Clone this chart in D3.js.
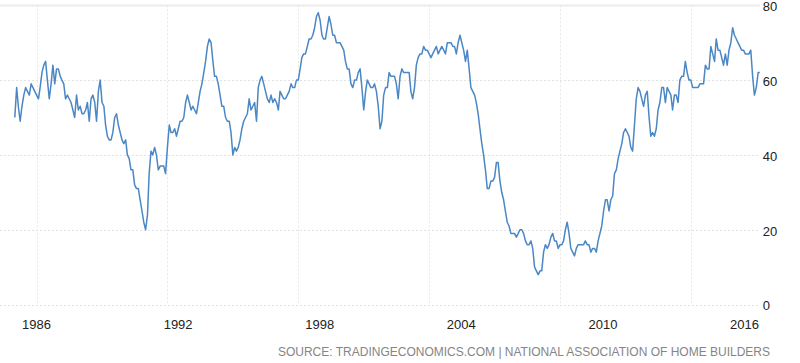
<!DOCTYPE html>
<html>
<head>
<meta charset="utf-8">
<script src="https://cdn.jsdelivr.net/npm/d3@7"></script>
<style>
  body { margin: 0; background: #fff; }
  svg { display: block; font-family: "Liberation Sans", Arial, sans-serif; }
</style>
</head>
<body>
<div class="chart"></div>
<script>
// NAHB housing market index, monthly, Jan 1985 .. Mar 2019
const startYear = 1985;
const hmi = [
  50, 58, 53, 49, 53, 56, 58, 57, 56, 59, 58, 57, // 1985
  56, 55, 58, 62, 64, 65, 60, 55, 59, 64, 59, 63, // 1986
  63, 61, 60, 59, 55, 56, 55, 54, 52, 50, 56, 52, // 1987
  53, 51, 51, 52, 54, 49, 55, 56, 54, 49, 57, 60, // 1988
  54, 53, 48, 45, 44, 44, 46, 50, 51, 48, 46, 44, // 1989
  43, 44, 40, 39, 36, 36, 32, 31, 31, 28, 25, 22, // 1990
  20, 24, 35, 41, 40, 42, 40, 36, 37, 37, 37, 35, // 1991
  42, 48, 46, 46, 47, 45, 47, 49, 49, 50, 54, 56, // 1992
  54, 52, 53, 52, 51, 54, 57, 59, 62, 65, 69, 71, // 1993
  70, 65, 61, 61, 59, 56, 53, 53, 50, 49, 49, 46, // 1994
  40, 42, 41, 42, 44, 47, 49, 50, 51, 55, 52, 53, // 1995
  54, 49, 58, 60, 61, 59, 57, 55, 54, 56, 54, 55, // 1996
  54, 52, 57, 56, 55, 55, 56, 57, 59, 58, 58, 60, // 1997
  60, 63, 66, 67, 67, 69, 71, 71, 72, 74, 77, 78, // 1998
  76, 72, 71, 71, 74, 77, 75, 72, 72, 70, 70, 70, // 1999
  69, 68, 65, 63, 63, 59, 58, 60, 60, 62, 63, 58, // 2000
  52, 57, 60, 59, 58, 58, 59, 57, 53, 47, 49, 56, // 2001
  58, 58, 62, 61, 61, 61, 59, 55, 61, 63, 62, 62, // 2002
  62, 62, 57, 55, 58, 64, 66, 67, 67, 69, 68, 68, // 2003
  67, 66, 67, 68, 69, 67, 68, 69, 68, 67, 70, 70, // 2004
  70, 69, 69, 67, 70, 72, 70, 68, 65, 68, 63, 58, // 2005
  57, 56, 54, 51, 47, 43, 40, 36, 31, 31, 33, 33, // 2006
  34, 38, 38, 33, 30, 28, 25, 22, 21, 19, 19, 19, // 2007
  18, 19, 20, 20, 19, 17, 16, 16, 17, 15, 10, 9,  // 2008
  8, 9, 9, 14, 16, 15, 16, 18, 19, 17, 17, 15,     // 2009
  16, 16, 17, 20, 22, 19, 15, 14, 13, 15, 16, 16, // 2010
  16, 16, 17, 16, 16, 14, 15, 15, 14, 17, 19, 21, // 2011
  25, 28, 28, 25, 28, 29, 35, 36, 39, 41, 43, 46, // 2012
  47, 46, 45, 42, 41, 48, 55, 58, 57, 55, 53, 56, // 2013
  57, 50, 45, 46, 45, 47, 52, 54, 58, 58, 54, 58, // 2014
  57, 56, 52, 56, 56, 54, 60, 61, 61, 65, 62, 60, // 2015
  60, 58, 58, 58, 58, 59, 59, 59, 64, 63, 63, 69, // 2016
  67, 65, 71, 68, 68, 66, 64, 67, 64, 68, 70, 74, // 2017
  72, 71, 70, 69, 68, 68, 67, 67, 67, 68, 61, 56, // 2018
  58, 62, 62                                      // 2019
];

const gridYears = [1986, 1992, 1998, 2004, 2010, 2016];
const xLabels = ["1986", "1992", "1998", "2004", "2010", "2016"];
const yTicks = [0, 20, 40, 60, 80];
const sourceText = "SOURCE: TRADINGECONOMICS.COM | NATIONAL ASSOCIATION OF HOME BUILDERS";

const data = hmi.map((v, i) => ({ date: new Date(startYear, i, 1), value: v }));

// Layout
const width = 800, height = 363;
const plot = { left: 14.8, right: 759.8, top: 5.3, bottom: 304.5 };

const svg = d3.select(".chart").append("svg")
    .attr("width", width)
    .attr("height", height);

// Scales
const xScale = d3.scaleTime()
    .domain(d3.extent(data, d => d.date))
    .range([plot.left, plot.right]);

const yScale = d3.scaleLinear()
    .domain([0, 80])
    .range([plot.bottom, plot.top]);

// tick labels sit on their own evenly spaced slots (as in the source chart)
const labelScale = d3.scalePoint()
    .domain(xLabels)
    .range([36, 744]);

// Horizontal grid
svg.append("g")
    .selectAll("line")
    .data(yTicks)
    .join("line")
    .attr("x1", 0)
    .attr("x2", plot.right)
    .attr("y1", d => Math.round(yScale(d)) + 0.5)
    .attr("y2", d => Math.round(yScale(d)) + 0.5)
    .attr("stroke", d => d === 80 ? "#ececec" : "#e2e2e2")
    .attr("stroke-width", d => d === 80 ? 2 : 1)
    .attr("stroke-dasharray", d => d === 80 ? null : "2,2");

// Vertical grid
svg.append("g")
    .selectAll("line")
    .data(gridYears)
    .join("line")
    .attr("x1", d => Math.round(xScale(new Date(d, 0, 1))) + 0.5)
    .attr("x2", d => Math.round(xScale(new Date(d, 0, 1))) + 0.5)
    .attr("y1", plot.top)
    .attr("y2", plot.bottom)
    .attr("stroke", "#e8e8e8")
    .attr("stroke-dasharray", "2,2");

// Line
const line = d3.line()
    .x(d => xScale(d.date))
    .y(d => yScale(d.value));

svg.append("path")
    .datum(data)
    .attr("d", line)
    .attr("fill", "none")
    .attr("stroke", "#4a87c4")
    .attr("stroke-width", 1.5)
    .attr("stroke-linejoin", "round");

// Right axis
const yAxis = d3.axisRight(yScale)
    .tickValues(yTicks)
    .tickSize(0)
    .tickPadding(3);

svg.append("g")
    .attr("class", "axis y-axis")
    .attr("transform", `translate(${plot.right}, 0)`)
    .call(yAxis)
    .call(g => g.select(".domain").remove())
    .call(g => g.selectAll("text")
        .attr("dy", "0.42em")
        .attr("font-size", 13)
        .attr("font-family", "Liberation Sans, Arial, sans-serif")
        .attr("fill", "#222"));

// Bottom labels
const xAxis = d3.axisBottom(labelScale)
    .tickSize(0)
    .tickPadding(0);

svg.append("g")
    .attr("class", "axis x-axis")
    .attr("transform", "translate(0, 320)")
    .call(xAxis)
    .call(g => g.select(".domain").remove())
    .call(g => g.selectAll("text")
        .attr("font-size", 13)
        .attr("font-family", "Liberation Sans, Arial, sans-serif")
        .attr("fill", "#222"));

// Source
svg.append("text")
    .attr("x", 770)
    .attr("y", 356)
    .attr("text-anchor", "end")
    .attr("font-size", 12)
    .attr("fill", "#858585")
    .text(sourceText);
</script>
</body>
</html>
